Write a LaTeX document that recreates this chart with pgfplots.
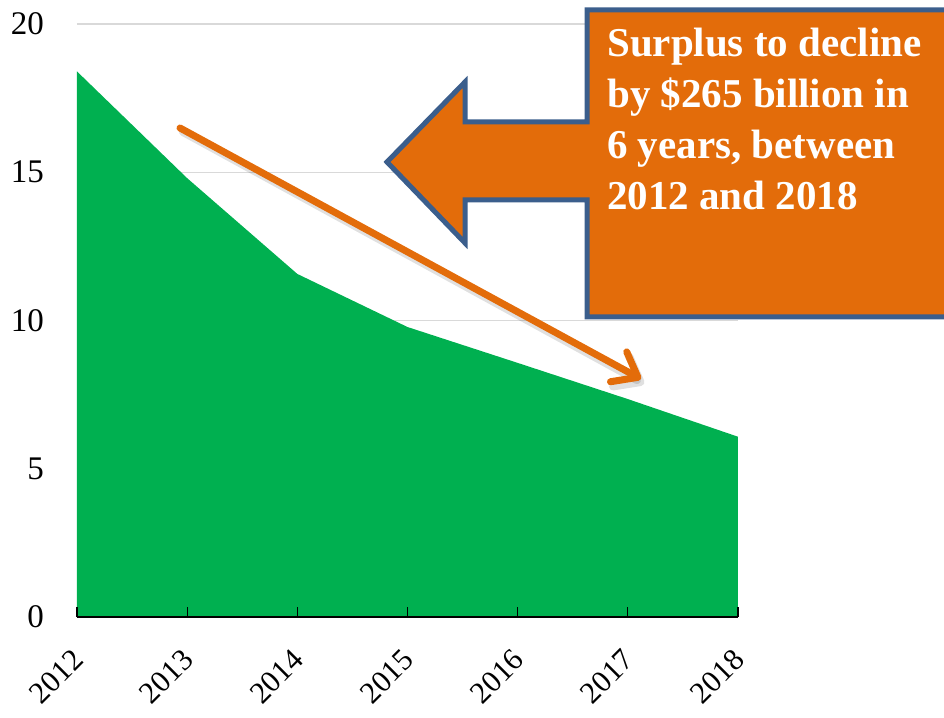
\documentclass[border=0pt]{standalone}
\usepackage{pgfplots}
\pgfplotsset{compat=1.18}
\usepackage{fontspec}
\setmainfont{Liberation Serif}
\usetikzlibrary{arrows.meta}
\definecolor{exgreen}{RGB}{0,176,80}
\definecolor{exorange}{RGB}{227,108,10}
\definecolor{exblue}{RGB}{59,94,140}
\definecolor{gridgray}{RGB}{217,217,217}
\begin{document}
\begin{tikzpicture}
\begin{axis}[
  at={(0pt,0pt)}, anchor=south west,
  scale only axis, width=661pt, height=593pt,
  xmin=2012, xmax=2018, ymin=0, ymax=20,
  xtick={2012,2013,2014,2015,2016,2017,2018},
  ytick={0,5,10,15,20},
  axis line style={draw=none},
  ymajorgrids, major grid style={line width=1.3pt, color=gridgray},
  tick style={draw=none},
  /pgf/number format/assume math mode=true,
  /pgf/number format/1000 sep={},
  yticklabel style={font=\fontsize{33}{39}\selectfont, anchor=east, inner sep=0pt, xshift=-33pt},
  xticklabel style={font=\fontsize{30.5}{36}\selectfont, xshift=1pt, yshift=-38pt, rotate=45, anchor=east, inner sep=0pt},
  clip=false,
]
\addplot[fill=exgreen, draw=none] coordinates {
  (2012,18.4) (2013,14.8) (2014,11.57) (2015,9.78) (2016,8.57) (2017,7.35) (2018,6.08)
} \closedcycle;
% x axis line and inward ticks
\draw[black, line width=1.5pt] (axis cs:2012,0) -- (axis cs:2018,0);
\pgfplotsinvokeforeach{2012,2013,2014,2015,2016,2017,2018}{
  \draw[black, line width=1.3pt] (axis cs:#1,0) -- ++(0pt,10pt);
}
\end{axis}
% trend arrow (annotation)
\draw[black, opacity=0.12, line width=8pt, line cap=round, -{Straight Barb[length=22pt,width=34pt,round]}]
  (106pt,485pt) -- (567pt,233pt);
\draw[exorange, line width=7pt, line cap=round, -{Straight Barb[length=22pt,width=34pt,round]}]
  (103pt,489pt) -- (564pt,238pt);
% callout
\draw[exblue, line width=5pt, fill=exorange, line join=miter]
  (510pt,607pt) -- (890pt,607pt) -- (890pt,300pt) -- (510pt,300pt) -- (510pt,417pt) -- (388pt,417pt)
  -- (388pt,374pt) -- (310pt,455pt) -- (388pt,535pt) -- (388pt,495pt) -- (510pt,495pt) -- cycle;
\begin{scope}[every node/.style={anchor=base west, inner sep=0pt, text=white, font=\bfseries\fontsize{41}{51}\selectfont}]
\node at (530pt,560pt) {Surplus to decline};
\node at (530pt,509pt) {by \$265 billion in};
\node at (530pt,458pt) {6 years, between};
\node at (530pt,407pt) {2012 and 2018};
\end{scope}
\pgfresetboundingbox
\path[use as bounding box] (-77pt,-100pt) rectangle (867pt,617pt);
\end{tikzpicture}
\end{document}
